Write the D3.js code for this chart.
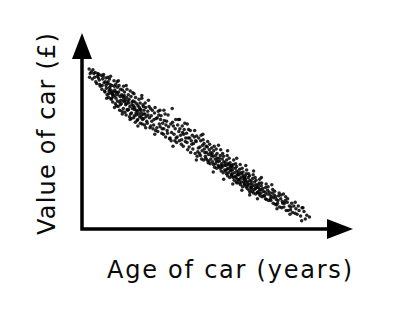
<!DOCTYPE html>
<html>
<head>
<meta charset="utf-8">
<script src="https://cdn.jsdelivr.net/npm/d3@7"></script>
<style>
  body { margin: 0; background: #fff; }
  .axis-label { font-family: "DejaVu Sans", sans-serif; font-size: 24px; fill: #0a0a0a; }
</style>
</head>
<body>
<div id="chart"></div>
<script>
// Scatter of car age against value, no ticks, arrowed axes

const width = 394, height = 321;

const xLabel = "Age of car (years)";
const yLabel = "Value of car (£)";

// [age in years, value in £000s]
const cars = [
  [0.55,17.4],[0.63,16.9],[0.58,16.5],[0.72,17.1],[0.79,16.3],[0.91,16.9],[0.84,17.3],[0.97,16.5],
  [1.06,16.0],[1.02,17.0],[1.18,16.6],[1.13,15.8],[1.22,16.9],
  [1.29,16.8],[1.41,15.5],[1.33,16.2],[1.47,16.7],[1.36,15.7],[1.26,16.4],
  [1.61,16.6],[1.53,15.2],[1.7,15.9],[1.58,16.3],[1.74,15.0],[1.66,16.8],[1.55,15.6],
  [1.83,16.4],[1.77,14.9],[1.96,15.8],[1.88,15.3],[1.79,16.0],[1.93,14.6],[1.85,15.6],[1.99,16.5],
  [2.04,14.3],[2.17,15.7],[2.08,15.0],[2.21,14.8],[2.01,16.0],[2.13,15.4],[2.24,14.1],[2.11,16.3],[2.06,14.7],
  [2.31,15.6],[2.27,14.2],[2.44,14.9],[2.36,13.8],[2.49,15.5],[2.29,15.0],[2.4,14.4],[2.46,16.1],[2.33,14.7],
  [2.57,13.6],[2.52,15.1],[2.68,14.8],[2.61,14.2],[2.73,15.4],[2.55,14.5],[2.65,13.4],[2.7,16.0],[2.59,15.7],
  [2.82,14.9],[2.78,13.3],[2.93,14.4],[2.87,13.8],[2.97,15.2],[2.76,14.6],[2.9,12.9],[2.85,15.6],[2.99,14.0],
  [3.05,14.6],[3.18,13.1],[3.02,13.6],[3.11,15.1],[3.22,14.2],[3.08,12.8],[3.15,13.9],[3.2,15.5],[3.13,14.4],
  [3.3,12.7],[3.43,14.3],[3.27,14.9],[3.36,13.5],[3.48,13.0],[3.33,14.0],[3.46,15.2],[3.39,12.4],[3.29,13.8],
  [3.56,14.6],[3.51,12.9],[3.68,13.3],[3.62,14.1],[3.73,12.5],[3.59,13.7],[3.71,15.0],[3.65,12.2],[3.54,13.9],
  [3.81,12.6],[3.94,13.9],[3.77,14.4],[3.88,13.1],[3.98,12.1],[3.84,13.5],[3.91,14.8],[3.79,12.0],[3.96,13.4],
  [4.07,13.8],[4.02,12.3],[4.19,12.9],[4.12,14.3],[4.24,11.8],[4.05,13.2],[4.15,12.6],[4.21,13.6],[4.1,11.6],
  [4.31,13.4],[4.44,12.2],[4.27,12.8],[4.38,14.1],[4.49,11.5],[4.35,12.5],[4.41,13.2],[4.29,11.9],[4.47,13.7],
  [4.56,12.1],[4.69,13.5],[4.52,13.0],[4.63,11.4],[4.74,12.5],[4.6,14.2],[4.66,11.9],[4.54,12.7],[4.72,13.3],
  [4.81,11.3],[4.77,12.9],[4.93,12.2],[4.86,13.7],[4.98,11.7],[4.84,12.5],[4.9,13.2],
  [5.06,12.8],[5.02,11.5],[5.19,12.1],[5.11,14.0],[5.23,11.0],[5.08,12.4],[5.16,13.3],
  [5.29,11.2],[5.41,12.9],[5.33,12.3],[5.46,10.9],[5.37,11.7],[5.27,13.1],
  [5.58,12.6],[5.51,11.3],[5.66,10.7],[5.71,12.0],[5.62,13.2],[5.54,11.9],
  [5.83,10.6],[5.79,12.1],[5.95,11.4],[5.87,12.8],[5.76,11.0],[5.91,12.4],
  [6.04,11.9],[6.14,10.4],[6.21,11.5],[6.08,12.3],[6.17,10.9],[6.01,11.1],
  [6.33,11.8],[6.26,10.3],[6.46,11.3],[6.39,12.5],[6.29,10.9],[6.43,10.0],
  [6.58,10.4],[6.51,11.7],[6.66,11.1],[6.73,9.8],[6.62,12.4],[6.55,10.7],
  [6.83,11.4],[6.94,13.1],[6.78,9.9],[6.89,10.5],[6.97,11.6],[6.86,9.6],
  [7.03,11.2],[7.14,9.6],[7.08,10.3],[7.21,11.9],[7.17,10.9],[7.24,9.9],
  [7.28,9.4],[7.36,11.3],[7.45,10.6],[7.32,10.0],[7.41,11.9],[7.49,9.6],
  [7.53,10.9],[7.64,9.2],[7.58,10.2],[7.71,11.2],[7.67,9.7],[7.74,10.5],
  [7.79,9.0],[7.86,10.8],[7.95,9.5],[7.82,10.3],[7.91,11.5],[7.98,9.9],
  [8.04,10.4],[8.13,8.6],[8.08,9.4],[8.2,10.8],[8.17,9.9],[8.24,8.9],
  [8.29,9.9],[8.36,8.3],[8.45,9.2],[8.33,10.7],[8.41,9.6],[8.49,10.2],
  [8.53,8.7],[8.64,10.0],[8.58,9.3],[8.71,8.2],[8.67,10.7],[8.74,9.6],
  [8.79,9.5],[8.86,7.9],[8.95,8.8],[8.82,10.1],[8.91,8.4],[8.98,9.9],
  [9.04,8.2],[9.13,9.6],[9.08,8.9],[9.2,7.6],[9.17,10.2],[9.24,8.5],[9.11,8.0],
  [9.28,9.1],[9.36,7.5],[9.45,8.3],[9.32,9.7],[9.41,8.7],[9.49,7.9],[9.39,9.3],
  [9.53,7.7],[9.64,8.9],[9.58,8.3],[9.71,7.2],[9.67,9.5],[9.74,8.1],[9.56,9.0],[9.62,7.5],
  [9.79,8.6],[9.86,7.1],[9.95,8.0],[9.82,9.2],[9.91,7.6],[9.98,8.8],[9.77,7.4],[9.89,8.3],
  [10.04,7.3],[10.13,8.5],[10.08,7.9],[10.2,6.7],[10.17,9.0],[10.24,7.6],[10.11,7.0],[10.02,8.2],
  [10.28,8.0],[10.36,6.6],[10.45,7.3],[10.32,8.7],[10.41,7.7],[10.49,6.9],[10.39,8.2],[10.26,7.1],
  [10.53,6.8],[10.64,8.0],[10.58,7.4],[10.71,6.3],[10.67,8.6],[10.74,7.1],[10.56,7.7],[10.62,6.6],
  [10.79,7.6],[10.86,6.1],[10.95,6.9],[10.82,8.2],[10.91,7.3],[10.98,6.4],[10.77,6.7],[10.89,7.9],
  [11.04,6.3],[11.13,7.5],[11.08,6.9],[11.2,5.8],[11.17,8.0],[11.24,6.6],[11.11,6.0],[11.02,7.2],[11.22,7.1],
  [11.28,7.0],[11.36,5.6],[11.45,6.3],[11.32,7.7],[11.41,6.7],[11.49,5.9],[11.39,7.2],[11.26,6.1],[11.47,6.9],
  [11.53,5.8],[11.64,7.0],[11.58,6.4],[11.71,5.3],[11.67,7.5],[11.74,6.1],[11.56,6.7],[11.62,5.6],[11.51,6.9],
  [11.79,6.6],[11.86,5.1],[11.95,5.9],[11.82,7.1],[11.91,6.3],[11.98,5.4],[11.77,5.7],[11.89,6.8],[11.93,5.0],
  [12.04,5.3],[12.13,6.5],[12.08,5.9],[12.2,4.8],[12.17,7.0],[12.24,5.6],[12.11,5.0],[12.02,6.2],[12.22,6.1],
  [12.28,6.0],[12.36,4.6],[12.45,5.4],[12.32,6.6],[12.41,5.8],[12.49,4.9],[12.39,6.2],[12.26,5.1],[12.47,5.6],
  [12.53,4.8],[12.64,6.0],[12.58,5.4],[12.71,4.4],[12.67,6.4],[12.74,5.1],[12.56,5.8],[12.62,4.6],[12.51,5.6],
  [12.79,5.6],[12.86,4.2],[12.95,4.9],[12.82,6.0],[12.91,5.3],[12.98,4.5],[12.77,4.7],[12.89,5.8],[12.93,4.0],
  [13.04,4.4],[13.13,5.5],[13.08,4.9],[13.2,3.9],[13.17,5.9],[13.24,4.7],[13.11,4.1],[13.02,5.2],
  [13.28,5.1],[13.36,3.8],[13.45,4.5],[13.32,5.6],[13.41,4.8],[13.49,4.0],[13.39,5.3],[13.26,4.3],
  [13.53,4.0],[13.64,5.0],[13.58,4.5],[13.71,3.6],[13.67,5.4],[13.74,4.3],[13.56,4.8],[13.62,3.8],
  [13.79,4.7],[13.86,3.5],[13.95,4.1],[13.82,5.0],[13.91,4.4],[13.98,3.6],[13.77,3.9],
  [14.04,3.6],[14.13,4.5],[14.08,4.0],[14.2,3.2],[14.17,4.9],[14.24,3.8],[14.11,3.3],
  [14.28,4.2],[14.36,3.1],[14.45,3.7],[14.32,4.6],[14.41,4.0],[14.49,3.3],
  [14.53,3.1],[14.64,3.9],[14.58,3.5],[14.71,2.8],[14.67,4.3],[14.74,3.4],
  [14.79,3.7],[14.86,2.7],[14.95,3.2],[14.82,4.1],[14.91,3.5],[14.98,2.6],
  [15.04,2.8],[15.13,3.6],[15.08,3.1],[15.2,2.4],[15.17,3.9],
  [15.29,3.3],[15.36,2.3],[15.45,2.8],[15.32,3.7],[15.41,3.0],
  [15.53,2.4],[15.64,3.1],[15.58,2.8],[15.71,2.0],[15.67,3.5],
  [15.79,2.9],[15.86,2.0],[15.95,2.5],[15.82,3.3],
  [16.04,2.1],[16.13,2.8],[16.08,2.4],[16.2,1.8],
  [16.3,2.5],[16.39,1.7],[16.46,2.2],[16.55,1.6],[16.64,2.5],[16.7,2.0],
  [16.82,1.4],[16.93,2.3],[17.08,1.9],[17.18,1.1],[17.3,1.5],
  // edge and cluster points
  [1.9,14.2],[2.2,16.6],[2.5,13.2],[2.8,16.1],[3.1,12.5],[3.4,15.6],[3.7,11.9],[4.0,14.7],[4.3,11.2],
  [4.6,14.5],[4.9,11.0],[2.35,14.6],[2.62,14.9],[2.95,13.5],[3.25,14.5],[3.58,13.0],[3.85,13.8],
  [4.18,12.4],[4.45,13.0],[4.75,12.0],[2.15,15.2],[2.72,13.9],[3.42,13.6],[4.02,13.0],[4.58,12.4],
  [5.6,10.3],[6.3,12.9],[7.5,11.9],[8.1,11.4],[8.8,7.5],[9.3,10.3],[7.0,9.0],[6.0,12.9],
  [10.1,6.2],[10.5,9.1],[10.9,5.4],[11.2,8.5],[11.6,4.9],[11.9,7.7],[12.3,4.2],[12.6,6.9],[12.9,3.7],
  [13.2,6.3],[13.5,3.3],[13.8,5.6],[10.35,7.4],[10.75,6.9],[11.15,6.5],[11.55,6.0],[11.85,5.6],
  [12.15,5.4],[12.45,5.1],[12.75,4.9],[13.05,4.6],[13.35,4.4],[13.65,4.2],[11.4,6.4],[12.0,5.9],[12.6,5.2],
  [14.6,4.8],[15.0,2.2],[15.5,3.8],[16.0,1.6],[16.4,2.9],[17.0,2.3],[17.5,1.3],[16.9,0.9]
];

const svg = d3
  .select("#chart")
  .append("svg")
  .attr("width", width)
  .attr("height", height);

// Scales (13px per year, 9.2px per £1000)
const x = d3.scaleLinear().domain([0, 20.85]).range([82, 353]);
const y = d3.scaleLinear().domain([0, 21.3]).range([229, 33]);

// Points
svg
  .append("g")
  .selectAll("circle")
  .data(cars)
  .enter()
  .append("circle")
  .attr("cx", (d) => x(d[0]))
  .attr("cy", (d) => y(d[1]))
  .attr("r", 1.75)
  .attr("fill", "#000")
  .attr("fill-opacity", 0.85);

// Axes: plain lines with filled arrowheads
const x0 = x.range()[0], x1 = x.range()[1];
const y0 = y.range()[0], y1 = y.range()[1];
const arrowLen = 26, arrowHalf = 10;

svg
  .append("path")
  .attr("d", `M${x0},${y1 + arrowLen - 2} L${x0},${y0} L${x1 - arrowLen + 2},${y0}`)
  .attr("fill", "none")
  .attr("stroke", "#000")
  .attr("stroke-width", 3.5)
  .attr("stroke-linejoin", "miter");

svg
  .append("path")
  .attr("d", `M${x0},${y1} L${x0 - arrowHalf},${y1 + arrowLen} L${x0 + arrowHalf},${y1 + arrowLen}Z`)
  .attr("fill", "#000");

svg
  .append("path")
  .attr("d", `M${x1},${y0} L${x1 - arrowLen},${y0 - arrowHalf} L${x1 - arrowLen},${y0 + arrowHalf}Z`)
  .attr("fill", "#000");

// Axis labels
svg
  .append("text")
  .attr("class", "axis-label")
  .attr("x", 107)
  .attr("y", 278)
  .attr("textLength", 245)
  .attr("lengthAdjust", "spacing")
  .text(xLabel);

svg
  .append("text")
  .attr("class", "axis-label")
  .attr("transform", "translate(55, 235) rotate(-90)")
  .attr("textLength", 202)
  .attr("lengthAdjust", "spacing")
  .text(yLabel);
</script>
</body>
</html>
